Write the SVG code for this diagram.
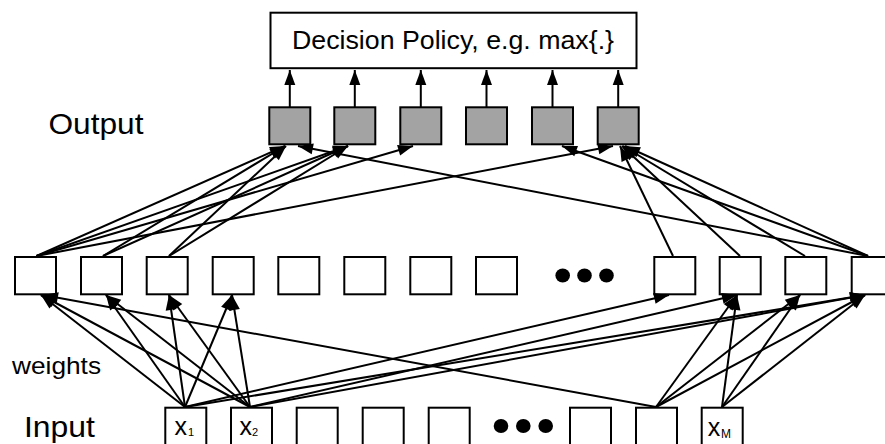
<svg xmlns="http://www.w3.org/2000/svg" width="885" height="444" viewBox="0 0 885 444">
<style>
  .box { fill: #ffffff; stroke: #000000; stroke-width: 2; }
  .out { fill: #a3a3a3; stroke: #000000; stroke-width: 2; }
  .lbl { font-family: "Liberation Sans", Arial, sans-serif; fill: #000000; }
  .c line { stroke: #000000; stroke-width: 2; marker-end: url(#ah); }
  .dot { fill: #000000; }
</style>
<defs>
  <marker id="ah" markerUnits="userSpaceOnUse" markerWidth="17" markerHeight="13" refX="15" refY="5.5" orient="auto" overflow="visible">
    <path d="M0,0 L15,5.5 L0,11 z" fill="#000000"/>
  </marker>
</defs>
<rect width="885" height="444" fill="#ffffff"/>

<g id="decision">
  <rect class="box" x="270.5" y="12.7" width="366" height="55.5"/>
  <text class="lbl" x="453" y="48.5" font-size="26.5" text-anchor="middle" textLength="322" lengthAdjust="spacingAndGlyphs">Decision Policy, e.g. max{.}</text>
</g>

<g id="labels">
  <text class="lbl" x="48.5" y="133.5" font-size="30" textLength="95" lengthAdjust="spacingAndGlyphs">Output</text>
  <text class="lbl" x="12" y="373.5" font-size="24" textLength="89" lengthAdjust="spacingAndGlyphs">weights</text>
  <text class="lbl" x="24" y="436.7" font-size="30" textLength="71" lengthAdjust="spacingAndGlyphs">Input</text>
</g>

<g id="outputs">
  <g id="o1"><rect class="out" x="269.3" y="107.3" width="41" height="37"/></g>
  <g id="o2"><rect class="out" x="334.3" y="107.3" width="41" height="37"/></g>
  <g id="o3"><rect class="out" x="400.3" y="107.3" width="41" height="37"/></g>
  <g id="o4"><rect class="out" x="466" y="107.3" width="41" height="37"/></g>
  <g id="o5"><rect class="out" x="532" y="107.3" width="41" height="37"/></g>
  <g id="o6"><rect class="out" x="597.7" y="107.3" width="41" height="37"/></g>
</g>

<g id="hidden">
  <g id="h1"><rect class="box" x="15" y="257" width="41" height="37.3"/></g>
  <g id="h2"><rect class="box" x="81" y="257" width="41" height="37.3"/></g>
  <g id="h3"><rect class="box" x="146.7" y="257" width="41" height="37.3"/></g>
  <g id="h4"><rect class="box" x="212.7" y="257" width="41" height="37.3"/></g>
  <g id="h5"><rect class="box" x="278.3" y="257" width="41" height="37.3"/></g>
  <g id="h6"><rect class="box" x="344.3" y="257" width="41" height="37.3"/></g>
  <g id="h7"><rect class="box" x="410.3" y="257" width="41" height="37.3"/></g>
  <g id="h8"><rect class="box" x="476" y="257" width="41" height="37.3"/></g>
  <g id="hdots">
    <ellipse class="dot" cx="562.7" cy="275.5" rx="7.3" ry="7"/>
    <ellipse class="dot" cx="584.5" cy="275.5" rx="7.3" ry="7"/>
    <ellipse class="dot" cx="606.5" cy="275.5" rx="7.3" ry="7"/>
  </g>
  <g id="h9"><rect class="box" x="654.3" y="257" width="41" height="37.3"/></g>
  <g id="h10"><rect class="box" x="719.7" y="257" width="41" height="37.3"/></g>
  <g id="h11"><rect class="box" x="785.3" y="257" width="41" height="37.3"/></g>
  <g id="h12"><rect class="box" x="851.7" y="257" width="41" height="37.3"/></g>
</g>

<g id="inputs">
  <g id="in1"><rect class="box" x="165.3" y="407.7" width="41" height="40"/>
    <text class="lbl" font-size="25"><tspan x="174.5" y="435">x</tspan><tspan x="188" y="436" font-size="11">1</tspan></text></g>
  <g id="in2"><rect class="box" x="231" y="407.7" width="41" height="40"/>
    <text class="lbl" font-size="25"><tspan x="239.5" y="435">x</tspan><tspan x="252" y="436" font-size="11">2</tspan></text></g>
  <g id="in3"><rect class="box" x="296.7" y="407.7" width="41" height="40"/></g>
  <g id="in4"><rect class="box" x="362.7" y="407.7" width="41" height="40"/></g>
  <g id="in5"><rect class="box" x="428.7" y="407.7" width="41" height="40"/></g>
  <g id="idots">
    <ellipse class="dot" cx="501" cy="426" rx="7.3" ry="7"/>
    <ellipse class="dot" cx="523.3" cy="426" rx="7.3" ry="7"/>
    <ellipse class="dot" cx="545.7" cy="426" rx="7.3" ry="7"/>
  </g>
  <g id="in6"><rect class="box" x="570" y="407.7" width="41" height="40"/></g>
  <g id="in7"><rect class="box" x="636" y="407.7" width="41" height="40"/></g>
  <g id="inM"><rect class="box" x="701.7" y="407.7" width="41" height="40"/>
    <text class="lbl" font-size="25"><tspan x="707.8" y="436">x</tspan><tspan x="721" y="437.5" font-size="12">M</tspan></text></g>
</g>

<g id="connectors" class="c">
  <!-- output to decision -->
  <line x1="289.8" y1="107" x2="289.8" y2="70"/>
  <line x1="354.8" y1="107" x2="354.8" y2="70"/>
  <line x1="420.8" y1="107" x2="420.8" y2="70"/>
  <line x1="486.5" y1="107" x2="486.5" y2="70"/>
  <line x1="552.5" y1="107" x2="552.5" y2="70"/>
  <line x1="618.2" y1="107" x2="618.2" y2="70"/>
  <!-- hidden to output -->
  <line x1="36.5" y1="256" x2="285" y2="146"/>
  <line x1="36.5" y1="256" x2="348" y2="146"/>
  <line x1="36.5" y1="256" x2="413" y2="146"/>
  <line x1="36.5" y1="256" x2="613" y2="146"/>
  <line x1="103" y1="256" x2="285" y2="146"/>
  <line x1="103" y1="256" x2="348" y2="146"/>
  <line x1="169" y1="256" x2="286" y2="146"/>
  <line x1="169" y1="256" x2="348" y2="146"/>
  <line x1="673" y1="256" x2="620" y2="146"/>
  <line x1="740" y1="256" x2="622" y2="146"/>
  <line x1="805" y1="256" x2="623" y2="146"/>
  <line x1="868" y1="256" x2="625" y2="146"/>
  <line x1="868" y1="256" x2="562" y2="146"/>
  <line x1="868" y1="256" x2="298" y2="146"/>
  <!-- input to hidden -->
  <line x1="185" y1="407" x2="41" y2="295"/>
  <line x1="185" y1="407" x2="106" y2="295"/>
  <line x1="185" y1="407" x2="169" y2="295"/>
  <line x1="185" y1="407" x2="232" y2="295"/>
  <line x1="185" y1="407" x2="669" y2="295"/>
  <line x1="185" y1="407" x2="865" y2="295"/>
  <line x1="250" y1="407" x2="41" y2="295"/>
  <line x1="250" y1="407" x2="106" y2="295"/>
  <line x1="250" y1="407" x2="169" y2="295"/>
  <line x1="250" y1="407" x2="232" y2="295"/>
  <line x1="250" y1="407" x2="737" y2="295"/>
  <line x1="250" y1="407" x2="865" y2="295"/>
  <line x1="656" y1="407" x2="43" y2="295"/>
  <line x1="656" y1="407" x2="737" y2="295"/>
  <line x1="656" y1="407" x2="800" y2="295"/>
  <line x1="656" y1="407" x2="865" y2="295"/>
  <line x1="722" y1="407" x2="737" y2="295"/>
  <line x1="722" y1="407" x2="800" y2="295"/>
  <line x1="722" y1="407" x2="865" y2="295"/>
</g>
</svg>
